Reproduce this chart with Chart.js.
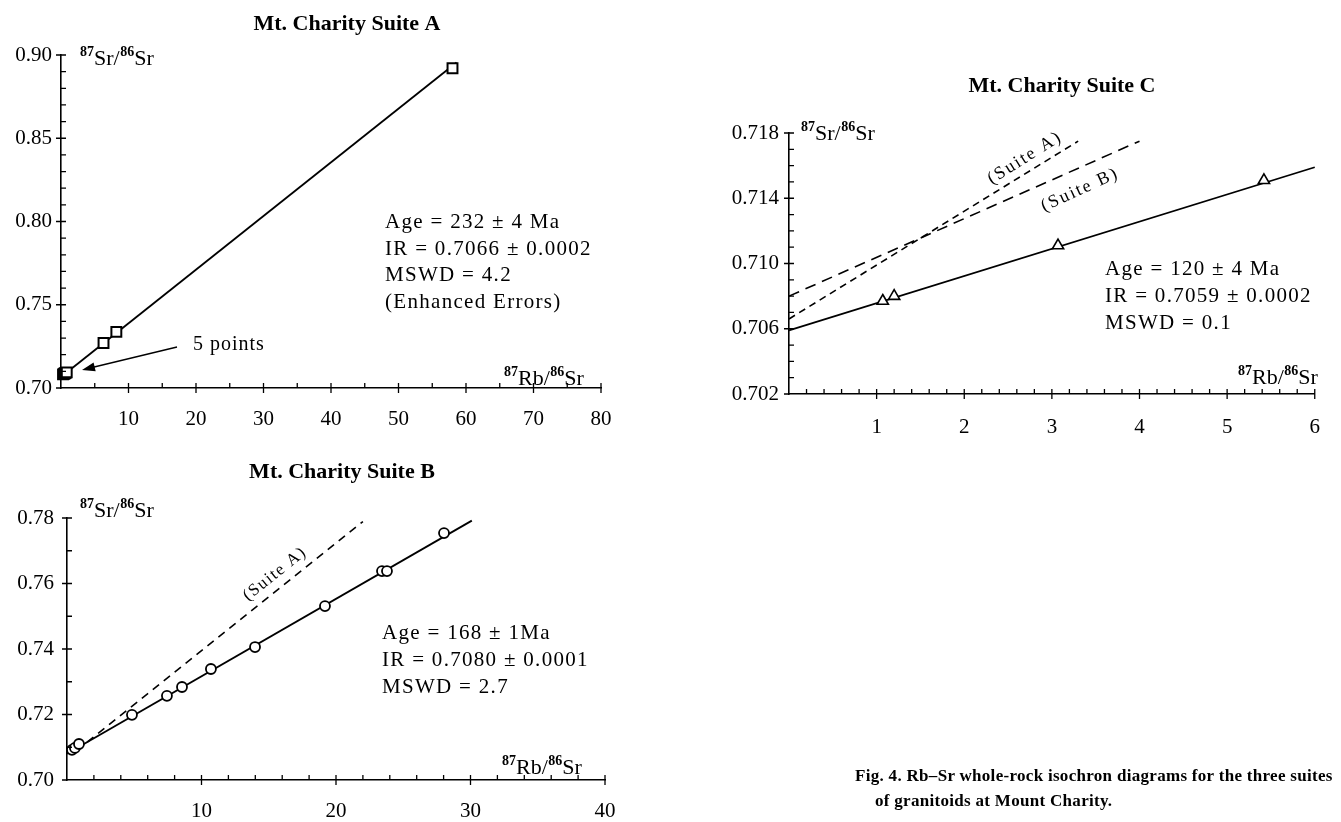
<!DOCTYPE html>
<html><head><meta charset="utf-8">
<script src="https://cdn.jsdelivr.net/npm/chart.js@4.4.1/dist/chart.umd.min.js"></script>
<style>
html,body{margin:0;padding:0;background:#fff;width:1341px;height:822px;overflow:hidden;}
.cv{position:absolute;left:0;top:0;}
#caption{position:absolute;left:855px;top:763px;font:bold 17px "Liberation Serif";color:#000;white-space:nowrap;line-height:25px;letter-spacing:0.3px}
</style></head><body>
<canvas id="cA" class="cv" width="1341" height="822"></canvas>
<canvas id="cB" class="cv" width="1341" height="822"></canvas>
<canvas id="cC" class="cv" width="1341" height="822"></canvas>
<div id="caption">Fig. 4. Rb–Sr whole-rock isochron diagrams for the three suites<br><span style="padding-left:20px">of granitoids at Mount Charity.</span></div>
<script>
// ---------- Suite A ----------
const suiteA_x = [0.3, 0.45, 0.6, 0.7, 0.85, 6.3, 8.2, 58.0];
const suiteA_y = [0.7082, 0.7086, 0.7089, 0.7091, 0.7094, 0.7270, 0.7337, 0.8920];
const isochronA_x = [0, 58.6];
const isochronA_y = [0.7066, 0.8955];
const xTicksA = [10, 20, 30, 40, 50, 60, 70, 80];
const xLabelsA = ['10', '20', '30', '40', '50', '60', '70', '80'];
const yTicksA = [0.70, 0.75, 0.80, 0.85, 0.90];
const yLabelsA = ['0.70', '0.75', '0.80', '0.85', '0.90'];

// ---------- Suite B ----------
const suiteB_x = [0.37, 0.59, 0.89, 4.83, 7.43, 8.55, 10.7, 13.98, 19.18, 23.42, 23.79, 28.03];
const suiteB_y = [0.7092, 0.7098, 0.7110, 0.7199, 0.7257, 0.7284, 0.7339, 0.7406, 0.7531, 0.7638, 0.7638, 0.7754];
const isochronB_x = [0, 30.1];
const isochronB_y = [0.7080, 0.7792];
const refA_inB_x = [1.5, 22.0];
const refA_inB_y = [0.7116, 0.7789];
const xTicksB = [10, 20, 30, 40];
const xLabelsB = ['10', '20', '30', '40'];
const yTicksB = [0.70, 0.72, 0.74, 0.76, 0.78];
const yLabelsB = ['0.70', '0.72', '0.74', '0.76', '0.78'];

// ---------- Suite C ----------
const suiteC_x = [1.07, 1.2, 3.07, 5.42];
const suiteC_y = [0.7077, 0.7080, 0.7111, 0.7151];
const isochronC_x = [0, 6.0];
const isochronC_y = [0.7059, 0.7159];
const refA_inC_x = [0, 3.3];
const refA_inC_y = [0.7066, 0.7175];
const refB_inC_x = [0, 4.0];
const refB_inC_y = [0.7080, 0.7175];
const xTicksC = [1, 2, 3, 4, 5, 6];
const xLabelsC = ['1', '2', '3', '4', '5', '6'];
const yTicksC = [0.702, 0.706, 0.710, 0.714, 0.718];
const yLabelsC = ['0.702', '0.706', '0.710', '0.714', '0.718'];

const pts = (xs, ys) => xs.map((x, i) => ({x: x, y: ys[i]}));
const SERIF = '"Liberation Serif", "Times New Roman", serif';

function drawIso(ctx, x, y, first) {
  const parts = [[true, '87'], [false, first + '/'], [true, '86'], [false, 'Sr']];
  let cx = x;
  ctx.textAlign = 'left';
  ctx.textBaseline = 'alphabetic';
  ctx.letterSpacing = '0px';
  for (const [sup, t] of parts) {
    ctx.font = sup ? 'bold 14px ' + SERIF : '22px ' + SERIF;
    ctx.fillText(t, cx, sup ? y - 9 : y);
    cx += ctx.measureText(t).width + (sup ? 0 : 0.5);
  }
}

const annot = {
  id: 'annot',
  afterDraw(chart, args, o) {
    const ctx = chart.ctx;
    const xs = chart.scales.x, ys = chart.scales.y;
    const ca = chart.chartArea;
    ctx.save();
    ctx.strokeStyle = '#000';
    ctx.fillStyle = '#000';
    ctx.lineWidth = 1.3;
    // tick marks: majors cross the axis, minors point inward
    const isMajor = (v, list) => list.some(m => Math.abs(m - v) < 1e-7);
    ctx.beginPath();
    for (let v = xs.min; v <= xs.max + 1e-9; v += o.xMinor) {
      const p = xs.getPixelForValue(v);
      if (Math.abs(v - xs.min) < 1e-9) continue;
      if (isMajor(v, o.xMajor)) { ctx.moveTo(p, ca.bottom - 5); ctx.lineTo(p, ca.bottom + 5); }
      else { ctx.moveTo(p, ca.bottom - 5); ctx.lineTo(p, ca.bottom); }
    }
    for (let v = ys.min; v <= ys.max + 1e-9; v += o.yMinor) {
      const p = ys.getPixelForValue(v);
      if (Math.abs(v - ys.min) < 1e-9) { ctx.moveTo(ca.left - 5, p); ctx.lineTo(ca.left, p); continue; }
      if (isMajor(v, o.yMajor)) { ctx.moveTo(ca.left - 5, p); ctx.lineTo(ca.left + 5, p); }
      else { ctx.moveTo(ca.left, p); ctx.lineTo(ca.left + 5, p); }
    }
    ctx.stroke();
    // title
    ctx.font = 'bold 22px ' + SERIF;
    ctx.textAlign = 'center';
    ctx.textBaseline = 'alphabetic';
    ctx.letterSpacing = '0px';
    ctx.fillText(o.title[0], o.title[1], o.title[2]);
    // axis names
    drawIso(ctx, o.yName[0], o.yName[1], 'Sr');
    drawIso(ctx, o.xName[0], o.xName[1], 'Rb');
    // statistics
    ctx.font = '21px ' + SERIF;
    ctx.textAlign = 'left';
    ctx.letterSpacing = '1.3px';
    o.stats.lines.forEach((t, i) => ctx.fillText(t, o.stats.x, o.stats.y + i * o.stats.dy));
    // rotated reference labels
    for (const r of (o.rot || [])) {
      ctx.save();
      ctx.translate(r.x, r.y);
      ctx.rotate(-r.a * Math.PI / 180);
      ctx.font = r.size + 'px ' + SERIF;
      ctx.letterSpacing = r.ls + 'px';
      ctx.textAlign = 'center';
      ctx.textBaseline = 'middle';
      ctx.fillText(r.t, 0, 0);
      ctx.restore();
    }
    // arrow with note
    if (o.arrow) {
      const a = o.arrow;
      ctx.font = '20px ' + SERIF;
      ctx.letterSpacing = '1px';
      ctx.textAlign = 'left';
      ctx.fillText(a.text, a.tx, a.ty);
      ctx.lineWidth = 1.3;
      ctx.beginPath(); ctx.moveTo(a.x1, a.y1); ctx.lineTo(a.x2 + 8, a.y2 - 2); ctx.stroke();
      const ang = Math.atan2(a.y2 - a.y1, a.x2 - a.x1);
      ctx.beginPath();
      ctx.moveTo(a.x2, a.y2);
      ctx.lineTo(a.x2 - 13 * Math.cos(ang) + 4.5 * Math.sin(ang), a.y2 - 13 * Math.sin(ang) - 4.5 * Math.cos(ang));
      ctx.lineTo(a.x2 - 13 * Math.cos(ang) - 4.5 * Math.sin(ang), a.y2 - 13 * Math.sin(ang) + 4.5 * Math.cos(ang));
      ctx.closePath(); ctx.fill();
    }
    ctx.restore();
  }
};

function lineDs(xs, ys, dash, w) {
  return {data: pts(xs, ys), showLine: true, pointRadius: 0, borderColor: '#000', borderWidth: w || 1.8,
          borderDash: dash || [], fill: false, clip: false, tension: 0};
}
function pointDs(xs, ys, style, r, bw) {
  return {data: pts(xs, ys), showLine: false, pointStyle: style, pointRadius: r, borderWidth: bw,
          pointBorderColor: '#000', pointBackgroundColor: '#fff', borderColor: '#000', backgroundColor: '#fff', clip: false};
}

function makeChart(id, c) {
  return new Chart(document.getElementById(id), {
    type: 'scatter',
    data: {datasets: c.datasets},
    options: {
      responsive: false, animation: false, devicePixelRatio: 1,
      layout: {padding: c.padding},
      events: [],
      plugins: {legend: {display: false}, tooltip: {enabled: false}, title: {display: false}, annot: c.annot},
      scales: {
        x: {type: 'linear', position: 'bottom', min: c.xMin, max: c.xMax,
            grid: {display: false, drawTicks: false}, border: {display: true, color: '#000', width: 1.6},
            afterBuildTicks: s => { s.ticks = c.xTicks.map(v => ({value: v})); },
            afterFit: s => { s.height = c.xH; },
            ticks: {autoSkip: false, maxRotation: 0, minRotation: 0, padding: c.xPad, color: '#000',
                    font: {family: SERIF, size: 21}, callback: (v, i) => c.xLabels[i]}},
        y: {type: 'linear', position: 'left', min: c.yMin, max: c.yMax,
            grid: {display: false, drawTicks: false}, border: {display: true, color: '#000', width: 1.6},
            afterBuildTicks: s => { s.ticks = c.yTicks.map(v => ({value: v})); },
            afterFit: s => { s.width = c.yW; },
            ticks: {autoSkip: false, padding: c.yPad, color: '#000',
                    font: {family: SERIF, size: 21}, callback: (v, i) => c.yLabels[i]}}
      }
    },
    plugins: [annot]
  });
}

makeChart('cA', {
  datasets: [pointDs(suiteA_x, suiteA_y, 'rect', 7, 2), lineDs(isochronA_x, isochronA_y)],
  padding: {left: 0, top: 55, right: 740, bottom: 382}, xH: 52, yW: 61, xPad: 19, yPad: 9,
  xMin: 0, xMax: 80, yMin: 0.70, yMax: 0.90,
  xTicks: xTicksA, xLabels: xLabelsA, yTicks: yTicksA, yLabels: yLabelsA,
  annot: {xMinor: 5, yMinor: 0.01, xMajor: xTicksA, yMajor: yTicksA,
          title: ['Mt. Charity Suite A', 347, 30], yName: [80, 65], xName: [504, 385],
          stats: {x: 385, y: 228, dy: 26.7, lines: ['Age = 232 ± 4 Ma', 'IR = 0.7066 ± 0.0002', 'MSWD = 4.2', '(Enhanced Errors)']},
          arrow: {text: '5 points', tx: 193, ty: 350, x1: 177, y1: 347, x2: 82, y2: 370}}
});

makeChart('cB', {
  datasets: [pointDs(suiteB_x, suiteB_y, 'circle', 5, 1.8), lineDs(isochronB_x, isochronB_y), lineDs(refA_inB_x, refA_inB_y, [8, 6], 1.6)],
  padding: {left: 0, top: 518, right: 736, bottom: 0}, xH: 42, yW: 67, xPad: 19, yPad: 13,
  xMin: 0, xMax: 40, yMin: 0.70, yMax: 0.78,
  xTicks: xTicksB, xLabels: xLabelsB, yTicks: yTicksB, yLabels: yLabelsB,
  annot: {xMinor: 2, yMinor: 0.01, xMajor: xTicksB, yMajor: yTicksB,
          title: ['Mt. Charity Suite B', 342, 478], yName: [80, 517], xName: [502, 774],
          stats: {x: 382, y: 639, dy: 27, lines: ['Age = 168 ± 1Ma', 'IR = 0.7080 ± 0.0001', 'MSWD = 2.7']},
          rot: [{t: '(Suite A)', x: 275, y: 574, a: 38.5, size: 17, ls: 1.5}]}
});

makeChart('cC', {
  datasets: [pointDs(suiteC_x, suiteC_y, 'triangle', 6.5, 1.6), lineDs(isochronC_x, isochronC_y),
             lineDs(refA_inC_x, refA_inC_y, [7, 5], 1.6), lineDs(refB_inC_x, refB_inC_y, [11, 7], 1.6)],
  padding: {left: 729, top: 133, right: 16, bottom: 376}, xH: 52, yW: 60, xPad: 21, yPad: 10,
  xMin: 0, xMax: 6, yMin: 0.702, yMax: 0.718,
  xTicks: xTicksC, xLabels: xLabelsC, yTicks: yTicksC, yLabels: yLabelsC,
  annot: {xMinor: 0.2, yMinor: 0.001, xMajor: xTicksC, yMajor: yTicksC,
          title: ['Mt. Charity Suite C', 1062, 92], yName: [801, 140], xName: [1238, 384],
          stats: {x: 1105, y: 275, dy: 27, lines: ['Age = 120 ± 4 Ma', 'IR = 0.7059 ± 0.0002', 'MSWD = 0.1']},
          rot: [{t: '(Suite A)', x: 1025, y: 158, a: 32, size: 18, ls: 2},
                {t: '(Suite B)', x: 1080, y: 190, a: 24.5, size: 18, ls: 2}]}
});
</script>
</body></html>
